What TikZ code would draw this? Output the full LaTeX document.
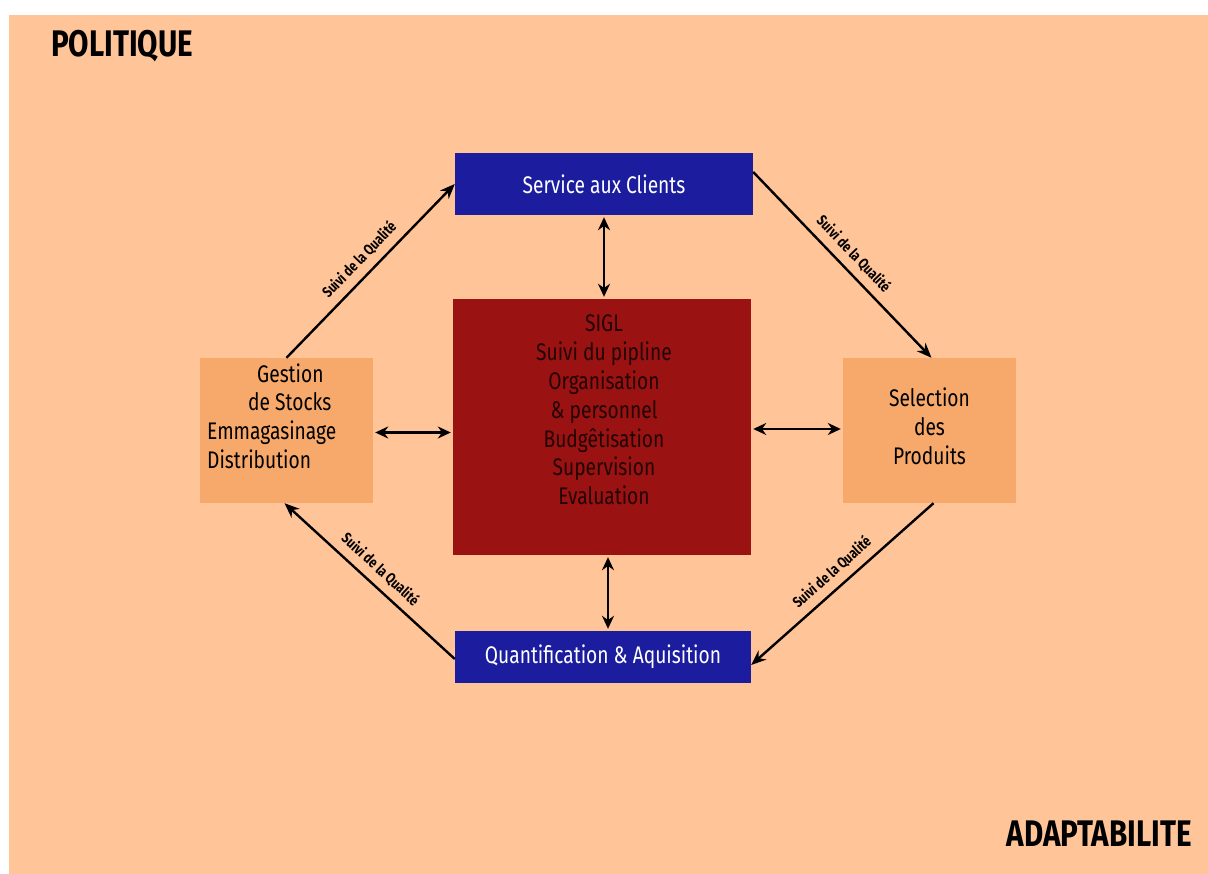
\documentclass[tikz,border=0pt]{standalone}
\usepackage{fontspec}
\setmainfont[FakeStretch=0.8]{Fira Sans}
\usetikzlibrary{arrows.meta,calc}
\definecolor{peach}{RGB}{255,196,152}
\definecolor{boxorange}{RGB}{247,169,107}
\definecolor{boxblue}{RGB}{28,28,158}
\definecolor{boxred}{RGB}{155,18,18}
\definecolor{redtext}{RGB}{35,4,4}
\tikzset{
  bluebox/.style={fill=boxblue, text=white, font=\fontsize{24}{28}\selectfont, inner sep=0pt},
  orangebox/.style={fill=boxorange, inner sep=0pt},
  redbox/.style={fill=boxred, inner sep=0pt},
  boxtext/.style={font=\fontsize{24}{28.8}\selectfont, inner sep=0pt},
  flow/.style={line width=2.4pt, -{Stealth[length=15pt,width=12pt]}},
  both/.style={line width=2.4pt, {Stealth[length=13pt,width=12pt]}-{Stealth[length=13pt,width=12pt]}},
  qlabel/.style={font=\bfseries\fontsize{15}{17}\selectfont, sloped, above=4pt, midway},
  corner/.style={font=\bfseries\fontsize{37}{40}\selectfont, inner sep=0pt}
}
\begin{document}
\begin{tikzpicture}[x=1pt,y=-1pt]
\useasboundingbox (0,0) rectangle (1208,874);
\fill[white] (0,0) rectangle (1208,874);
\fill[peach] (9,15) rectangle (1208,874);

\node[corner, anchor=west] (pol) at (51,46) {POLITIQUE};
\node[corner, anchor=east] (ada) at (1192,834) {ADAPTABILITE};

\node[bluebox, minimum width=298pt, minimum height=62pt] (svc) at (604,184) {Service aux Clients};
\node[redbox, minimum width=298pt, minimum height=256pt] (sigl) at (602,427) {};
\node[boxtext, text=redtext, align=center] (sigltext) at (604,410)
  {SIGL\\Suivi du pipline\\Organisation\\\& personnel\\Budgêtisation\\Supervision\\Evaluation};
\node[bluebox, minimum width=296pt, minimum height=52pt] (quant) at (603,657) {Quantification \& Aquisition};
\node[orangebox, minimum width=173pt, minimum height=145pt] (gest) at (286.5,430.5) {};
\node[boxtext, align=left, anchor=west] (gesttext) at (207,416)
  {\hspace*{50pt}Gestion\\\hspace*{41pt}de Stocks\\Emmagasinage\\Distribution};
\node[orangebox, minimum width=173pt, minimum height=145pt] (sel) at (929.5,430.5) {};
\node[boxtext, align=center] (seltext) at (929.5,426) {Selection\\des\\Produits};

\draw[flow] (gest.north) -- node[qlabel] {Suivi de la Qualité} (svc.west);
\draw[flow] ([yshift=12pt]svc.east) -- node[qlabel] {Suivi de la Qualité} ([xshift=2pt]sel.north);
\draw[flow] ([xshift=4pt]sel.south) -- node[qlabel] {Suivi de la Qualité} ([yshift=-8pt]quant.east);
\draw[flow] ([yshift=-2pt]quant.west) -- node[qlabel] {Suivi de la Qualité} ([xshift=-2pt]gest.south);

\draw[both] ([yshift=-2pt]svc.south) -- ([yshift=2pt]svc.south |- sigl.north);
\draw[both] ([xshift=6pt,yshift=-2pt]sigl.south) -- ([xshift=6pt,yshift=2pt]sigl.south |- quant.north);
\draw[both] ([xshift=2pt,yshift=-2pt]gest.east) -- ([xshift=-2pt,yshift=-2pt]gest.east -| sigl.west);
\draw[both] ([xshift=2pt,yshift=-2pt]sigl.east) -- ([xshift=-2pt,yshift=-2pt]sigl.east -| sel.west);
\end{tikzpicture}
\end{document}
